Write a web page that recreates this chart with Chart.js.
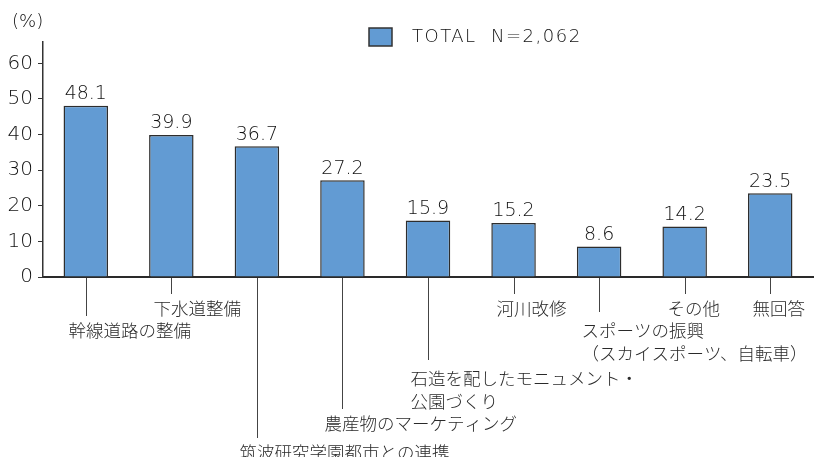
<!DOCTYPE html>
<html>
<head>
<meta charset="utf-8">
<script src="https://cdn.jsdelivr.net/npm/chart.js@4"></script>
<style>
  html, body { margin: 0; padding: 0; background: #fff; }
  #wrap { width: 826px; height: 457px; }
</style>
</head>
<body>
<div id="wrap"><canvas id="myBarChart" width="826" height="457"></canvas></div>
<script>
// 項目ごとの回答率 (%)
const categories = [
    ['幹線道路の整備'],
    ['下水道整備'],
    ['筑波研究学園都市との連携'],
    ['農産物のマーケティング'],
    ['石造を配したモニュメント・', '公園づくり'],
    ['河川改修'],
    ['スポーツの振興', '（スカイスポーツ、自転車）'],
    ['その他'],
    ['無回答']
];
const values = [48.1, 39.9, 36.7, 27.2, 15.9, 15.2, 8.6, 14.2, 23.5];
const yTicks = [0, 10, 20, 30, 40, 50, 60];
const seriesLabel = 'TOTAL  N=2,062';

// which text row each category label sits on (layout only)
const labelRow = [1, 0, 6, 5, 3, 0, 1, 0, 0];
const rowY = [308, 330, 355, 378, 401, 423, 452];

const FONT = '"Noto Sans CJK JP", "Noto Sans", sans-serif';
const NUMFONT = '"DejaVu Sans", sans-serif';
const TEXT = '#2a2a2a';
const NUMTEXT = '#111';

const annotate = {
    id: 'annotate',
    afterDraw(chart) {
        const ctx = chart.ctx;
        const x = chart.scales.x;
        const y = chart.scales.y;
        const meta = chart.getDatasetMeta(0);
        ctx.save();

        // value labels
        ctx.fillStyle = NUMTEXT;
        ctx.font = '200 19px ' + NUMFONT;
        ctx.textAlign = 'center';
        ctx.textBaseline = 'bottom';
        meta.data.forEach((bar, i) => {
            ctx.fillText(values[i].toFixed(1), bar.x, bar.y - 2);
        });

        // leader lines + category labels
        ctx.fillStyle = TEXT;
        ctx.font = '300 17.5px ' + FONT;
        ctx.textAlign = 'left';
        ctx.textBaseline = 'middle';
        categories.forEach((lines, i) => {
            const cx = Math.round(x.getPixelForValue(i)) + 0.5;
            const ty = rowY[labelRow[i]];
            ctx.strokeStyle = '#444';
            ctx.lineWidth = 1;
            ctx.beginPath();
            ctx.moveTo(cx, y.bottom + 1);
            ctx.lineTo(cx, ty - (lines.length > 1 ? 18 : 14));
            ctx.stroke();
            lines.forEach((t, k) => {
                ctx.fillText(t, cx - 18, ty + k * 23);
            });
        });

        // legend
        ctx.fillStyle = chart.data.datasets[0].backgroundColor;
        ctx.fillRect(369, 28, 23, 18);
        ctx.strokeStyle = '#333';
        ctx.lineWidth = 1.5;
        ctx.strokeRect(369, 28, 23, 18);
        ctx.fillStyle = NUMTEXT;
        ctx.font = '200 18px ' + NUMFONT;
        ctx.letterSpacing = '1.5px';
        ctx.fillText(chart.data.datasets[0].label, 412, 37);
        ctx.letterSpacing = '0px';

        // unit
        ctx.font = '200 18px ' + NUMFONT;
        ctx.fillText('(%)', 12, 22);
        ctx.restore();
    }
};

document.addEventListener('DOMContentLoaded', () => {
    const ctx = document.getElementById('myBarChart').getContext('2d');
    new Chart(ctx, {
        type: 'bar',
        data: {
            labels: categories,
            datasets: [{
                label: seriesLabel,
                data: values,
                backgroundColor: '#629bd3',
                borderColor: '#2d2d2d',
                borderWidth: 1.5,
                barPercentage: 0.52,
                categoryPercentage: 1
            }]
        },
        options: {
            responsive: false,
            animation: false,
            layout: { padding: { top: 42, right: 13, bottom: 180, left: 0 } },
            plugins: {
                legend: { display: false },
                tooltip: { enabled: false }
            },
            scales: {
                x: {
                    ticks: { display: false },
                    grid: { display: false },
                    border: { display: true, color: '#2a2a2a', width: 2 },
                    afterFit: (axis) => { axis.height = 0; }
                },
                y: {
                    min: 0,
                    max: 66,
                    afterBuildTicks: (axis) => { axis.ticks = yTicks.map(v => ({ value: v })); },
                    afterFit: (axis) => { axis.width = 43; },
                    ticks: { color: NUMTEXT, padding: 5, font: { family: NUMFONT, size: 20, weight: 200 } },
                    grid: { display: true, drawOnChartArea: false, drawTicks: true, tickLength: 5, color: '#333', lineWidth: 1 },
                    border: { display: true, color: '#333', width: 1.5 }
                }
            }
        },
        plugins: [annotate]
    });
});
</script>
</body>
</html>
